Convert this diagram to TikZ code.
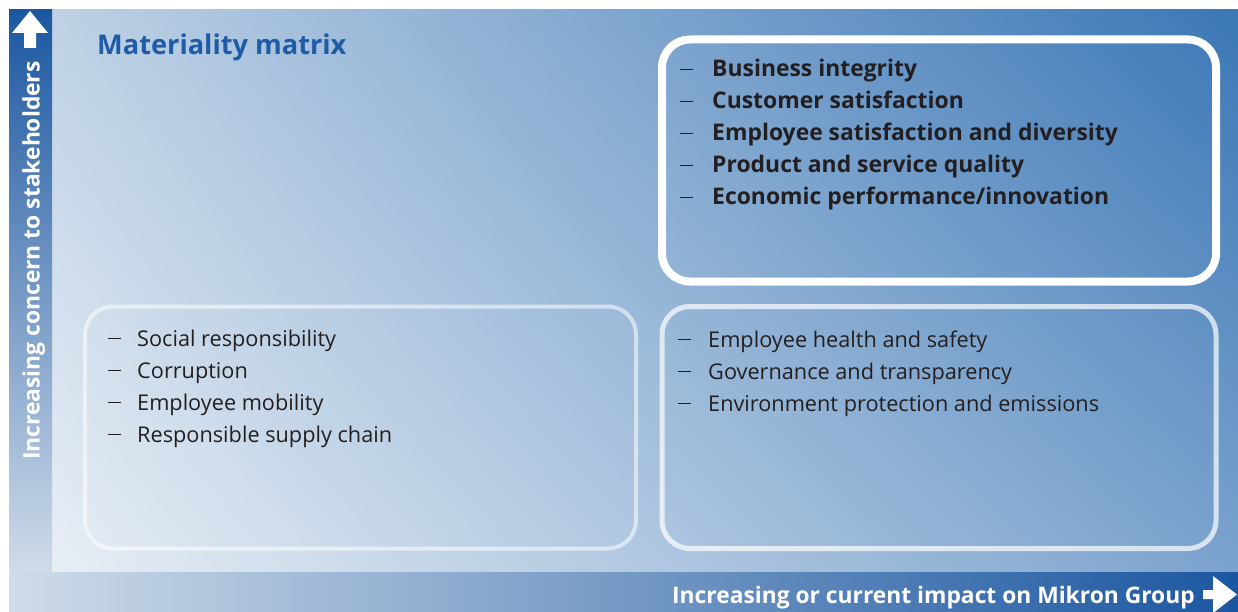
\documentclass[tikz,border=0pt]{standalone}
\usepackage{fontspec}
\setmainfont{Open Sans}
\usepackage{tikz}
\usetikzlibrary{positioning,shadings}
\definecolor{mikronblue}{HTML}{1B57A1}
\definecolor{midblue}{HTML}{5A8CC2}
\definecolor{paleblue}{HTML}{CFDBE9}
\definecolor{titleblue}{HTML}{1F5CA8}
\definecolor{listgray}{HTML}{231F20}
\definecolor{cornerNW}{HTML}{BED1E5}
\definecolor{cornerNE}{HTML}{3B77B6}
\definecolor{cornerSW}{HTML}{E8EEF5}
\definecolor{cornerSE}{HTML}{7BA3CD}
\newcommand{\listdash}{\rule[7pt]{12.5pt}{1.4pt}}

\begin{document}
\begin{tikzpicture}[x=1pt,y=-1pt]%
\tikzstyle{matbox} = [rectangle, rounded corners=28pt, inner sep=0pt, minimum width=554pt, minimum height=242pt]
\tikzstyle{hotbox} = [matbox, draw=white, line width=8pt]
\tikzstyle{warmbox} = [matbox, draw=white, draw opacity=0.7, line width=5pt]
\tikzstyle{coolbox} = [matbox, draw=white, draw opacity=0.55, line width=4pt, minimum width=551pt]
\tikzstyle{topiclist} = [inner sep=0pt, anchor=base west, text=listgray, font=\fontsize{21.7}{32}\selectfont]
\tikzstyle{axislabel} = [inner sep=0pt, text=white, font=\fontsize{22.8}{26}\selectfont\bfseries]

\useasboundingbox (0,0) rectangle (1238,612);
\shade[upper left=cornerNW, upper right=cornerNE, lower left=cornerSW, lower right=cornerSE]
    (52,10) rectangle (1238,572);
\shade[top color=mikronblue, middle color=midblue, bottom color=paleblue] (9,10) rectangle (52,572);
\shade[left color=paleblue, middle color=midblue, right color=mikronblue] (9,572) rectangle (1238,612);

\fill[white] (30,11) -- (48,33) -- (36,33) -- (36,48) -- (24,48) -- (24,33) -- (12,33) -- cycle;
\fill[white] (1237,594.5) -- (1213,576) -- (1213,590) -- (1203,590) -- (1203,599) -- (1213,599) -- (1213,613) -- cycle;

\node[axislabel, rotate=90, anchor=base west] (concern) at (39.5,460) {Increasing concern to stakeholders};
\node[axislabel, anchor=base east] (impact) at (1195,603) {Increasing or current impact on Mikron Group};
\node[inner sep=0pt, anchor=base west, text=titleblue, font=\fontsize{27.2}{30}\selectfont\bfseries] (title) at (97,55) {Materiality matrix};

\node[hotbox] (high) at (939,160.5) {};
\node[warmbox] (medium) at (939,427.5) {};
\node[coolbox] (low) at (360.5,427.5) {};

\node[topiclist, font=\fontsize{22.9}{32}\selectfont\bfseries] (highlist) at (680,77) {%
    \begin{tabular}[t]{@{}p{32pt}@{}l@{}}
    \listdash & Business integrity\\
    \listdash & Customer satisfaction\\
    \listdash & Employee satisfaction and diversity\\
    \listdash & Product and service quality\\
    \listdash & Economic performance/innovation
    \end{tabular}};
\node[topiclist] (mediumlist) at (678,347) {%
    \begin{tabular}[t]{@{}p{30pt}@{}l@{}}
    \listdash & Employee health and safety\\
    \listdash & Governance and transparency\\
    \listdash & Environment protection and emissions
    \end{tabular}};
\node[topiclist] (lowlist) at (108,346) {%
    \begin{tabular}[t]{@{}p{29pt}@{}l@{}}
    \listdash & Social responsibility\\
    \listdash & Corruption\\
    \listdash & Employee mobility\\
    \listdash & Responsible supply chain
    \end{tabular}};
\end{tikzpicture}
\end{document}
